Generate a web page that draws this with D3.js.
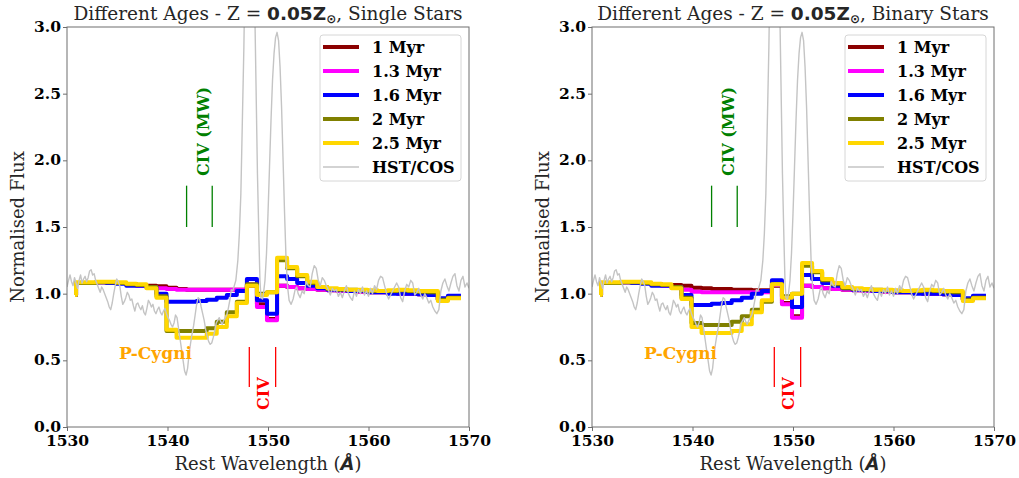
<!DOCTYPE html>
<html><head><meta charset="utf-8">
<script src="https://cdn.jsdelivr.net/npm/d3@7"></script>
<style>
body{margin:0;background:#fff;}
svg{display:block;}
</style></head>
<body>
<svg id="chart" width="1019" height="478"></svg>
<script>
// ---------------- DATA ----------------
const xTicks = [1530, 1540, 1550, 1560, 1570];
const yTicks = [0.0, 0.5, 1.0, 1.5, 2.0, 2.5, 3.0];
const seriesNames = ["1 Myr", "1.3 Myr", "1.6 Myr", "2 Myr", "2.5 Myr"];
const seriesColors = ["#8b0000", "#ff00ff", "#0000ff", "#808000", "#ffd700"];
const panelTitles = ["Single Stars", "Binary Stars"];

// model step edges (Angstrom)
const modelWave = [1530.8, 1530.9, 1531.9, 1532.9, 1533.9, 1534.9, 1535.9, 1536.9, 1537.9, 1538.9,
  1539.9, 1540.9, 1541.9, 1542.9, 1543.9, 1544.9, 1545.9, 1546.9, 1547.9, 1548.9,
  1549.9, 1550.9, 1551.9, 1552.9, 1553.9, 1554.9, 1555.9, 1556.9, 1557.9, 1558.9,
  1559.9, 1560.9, 1561.9, 1562.9, 1563.9, 1564.9, 1565.9, 1566.9, 1567.9, 1568.9, 1569.2];

// Single stars
const single_1Myr = [0.99, 1.08, 1.08, 1.085, 1.085, 1.08, 1.07, 1.065, 1.06, 1.055,
  1.045, 1.035, 1.03, 1.03, 1.03, 1.03, 1.03, 1.03, 1.06, 0.92,
  0.81, 1.06, 1.05, 1.04, 1.035, 1.03, 1.025, 1.02, 1.02, 1.015,
  1.01, 1.01, 1.005, 1.0, 1.0, 0.995, 0.99, 0.955, 0.975, 0.975, 0.975];
const single_13Myr = [0.99, 1.08, 1.08, 1.085, 1.085, 1.08, 1.07, 1.06, 1.05, 1.04,
  1.035, 1.03, 1.03, 1.03, 1.03, 1.03, 1.03, 1.03, 1.07, 0.90,
  0.80, 1.06, 1.05, 1.04, 1.035, 1.03, 1.025, 1.02, 1.02, 1.015,
  1.01, 1.01, 1.005, 1.0, 1.0, 0.995, 0.99, 0.955, 0.975, 0.975, 0.975];
const single_16Myr = [0.99, 1.08, 1.08, 1.085, 1.08, 1.075, 1.06, 1.06, 1.05, 1.0,
  0.94, 0.94, 0.94, 0.945, 0.955, 0.97, 0.99, 1.02, 1.11, 0.95,
  0.85, 1.13, 1.11, 1.08, 1.06, 1.04, 1.03, 1.025, 1.02, 1.02,
  1.01, 1.01, 1.0, 1.0, 1.0, 0.995, 0.99, 0.965, 0.985, 0.985, 0.985];
const single_2Myr = [0.99, 1.08, 1.08, 1.085, 1.085, 1.08, 1.07, 1.065, 1.05, 0.98,
  0.72, 0.72, 0.72, 0.72, 0.74, 0.79, 0.86, 0.94, 1.07, 1.0,
  1.01, 1.25, 1.19, 1.13, 1.08, 1.05, 1.035, 1.03, 1.03, 1.025,
  1.02, 1.02, 1.02, 1.025, 1.02, 1.015, 1.01, 0.955, 0.97, 0.97, 0.97];
const single_25Myr = [0.99, 1.085, 1.085, 1.09, 1.09, 1.085, 1.075, 1.07, 1.04, 0.97,
  0.73, 0.67, 0.67, 0.67, 0.70, 0.75, 0.83, 0.93, 1.06, 0.99,
  1.01, 1.27, 1.20, 1.14, 1.09, 1.05, 1.04, 1.035, 1.03, 1.03,
  1.025, 1.02, 1.025, 1.03, 1.025, 1.02, 1.02, 0.945, 0.965, 0.965, 0.965];

// Binary stars
const binary_1Myr = [0.99, 1.08, 1.08, 1.085, 1.085, 1.08, 1.07, 1.065, 1.065, 1.06,
  1.045, 1.04, 1.035, 1.035, 1.03, 1.03, 1.025, 1.025, 1.06, 0.93,
  0.83, 1.06, 1.05, 1.04, 1.035, 1.03, 1.025, 1.02, 1.02, 1.015,
  1.01, 1.01, 1.005, 1.0, 1.0, 0.995, 0.99, 0.955, 0.975, 0.975, 0.975];
const binary_13Myr = [0.99, 1.08, 1.08, 1.085, 1.085, 1.08, 1.07, 1.06, 1.05, 1.03,
  1.015, 1.01, 1.01, 1.01, 1.01, 1.01, 1.01, 1.01, 1.065, 0.92,
  0.82, 1.06, 1.05, 1.04, 1.035, 1.03, 1.025, 1.02, 1.02, 1.015,
  1.01, 1.01, 1.005, 1.0, 1.0, 0.995, 0.99, 0.955, 0.975, 0.975, 0.975];
const binary_16Myr = [0.99, 1.08, 1.08, 1.085, 1.08, 1.075, 1.06, 1.06, 1.05, 0.99,
  0.915, 0.915, 0.925, 0.93, 0.95, 0.97, 1.0, 1.02, 1.10, 0.975,
  0.90, 1.14, 1.11, 1.08, 1.06, 1.04, 1.03, 1.025, 1.02, 1.02,
  1.01, 1.01, 1.0, 1.0, 1.0, 0.995, 0.99, 0.965, 0.985, 0.985, 0.985];
const binary_2Myr = [0.99, 1.08, 1.08, 1.085, 1.085, 1.08, 1.07, 1.065, 1.05, 0.97,
  0.78, 0.765, 0.765, 0.765, 0.79, 0.83, 0.88, 0.94, 1.07, 0.98,
  1.0, 1.21, 1.16, 1.10, 1.07, 1.04, 1.035, 1.03, 1.03, 1.025,
  1.02, 1.02, 1.02, 1.025, 1.02, 1.015, 1.01, 0.955, 0.97, 0.97, 0.97];
const binary_25Myr = [0.99, 1.085, 1.085, 1.09, 1.09, 1.085, 1.075, 1.07, 1.04, 0.96,
  0.75, 0.705, 0.705, 0.705, 0.72, 0.77, 0.86, 0.95, 1.07, 0.97,
  1.0, 1.23, 1.17, 1.11, 1.08, 1.05, 1.04, 1.035, 1.03, 1.03,
  1.025, 1.02, 1.025, 1.03, 1.025, 1.02, 1.02, 0.945, 0.965, 0.965, 0.965];

// HST/COS observed spectrum
const hstWave = [1530.0, 1530.15, 1530.3, 1530.45, 1530.6, 1530.75, 1530.9, 1531.05, 1531.2, 1531.35,
  1531.5, 1531.65, 1531.8, 1531.95, 1532.1, 1532.25, 1532.4, 1532.55, 1532.7, 1532.85,
  1533.0, 1533.15, 1533.3, 1533.45, 1533.6, 1533.75, 1533.9, 1534.05, 1534.2, 1534.35,
  1534.5, 1534.65, 1534.8, 1534.95, 1535.1, 1535.25, 1535.4, 1535.55, 1535.7, 1535.85,
  1536.0, 1536.15, 1536.3, 1536.45, 1536.6, 1536.75, 1536.9, 1537.05, 1537.2, 1537.35,
  1537.5, 1537.65, 1537.8, 1537.95, 1538.1, 1538.25, 1538.4, 1538.55, 1538.7, 1538.85,
  1539.0, 1539.15, 1539.3, 1539.45, 1539.6, 1539.75, 1539.9, 1540.05, 1540.2, 1540.35,
  1540.5, 1540.65, 1540.8, 1540.95, 1541.1, 1541.25, 1541.4, 1541.55, 1541.7, 1541.85,
  1542.0, 1542.15, 1542.3, 1542.45, 1542.6, 1542.75, 1542.9, 1543.05, 1543.2, 1543.35,
  1543.5, 1543.65, 1543.8, 1543.95, 1544.1, 1544.25, 1544.4, 1544.55, 1544.7, 1544.85,
  1545.0, 1545.15, 1545.3, 1545.45, 1545.6, 1545.75, 1545.9, 1546.05, 1546.2, 1546.35,
  1546.5, 1546.65, 1546.8, 1547.0, 1547.15, 1547.3, 1547.45, 1547.6, 1547.75, 1547.9,
  1548.05, 1548.2, 1548.35, 1548.5, 1548.65, 1548.8, 1548.95, 1549.1, 1549.2, 1549.3,
  1549.45, 1549.55, 1549.7, 1549.85, 1550.0, 1550.15, 1550.3, 1550.45, 1550.6, 1550.75,
  1550.9, 1551.05, 1551.2, 1551.35, 1551.5, 1551.65, 1551.8, 1551.95, 1552.1, 1552.3,
  1552.5, 1552.7, 1552.85, 1553.0, 1553.2, 1553.4, 1553.6, 1553.8, 1554.0, 1554.2,
  1554.4, 1554.6, 1554.8, 1555.0, 1555.2, 1555.4, 1555.6, 1555.8, 1556.0, 1556.2,
  1556.4, 1556.6, 1556.8, 1557.0, 1557.2, 1557.4, 1557.6, 1557.8, 1558.0, 1558.2,
  1558.4, 1558.6, 1558.8, 1559.0, 1559.2, 1559.4, 1559.6, 1559.8, 1560.0, 1560.2,
  1560.4, 1560.6, 1560.8, 1561.0, 1561.2, 1561.4, 1561.6, 1561.8, 1562.0, 1562.2,
  1562.4, 1562.6, 1562.8, 1563.0, 1563.2, 1563.4, 1563.6, 1563.8, 1564.0, 1564.2,
  1564.4, 1564.6, 1564.8, 1565.0, 1565.2, 1565.4, 1565.6, 1565.8, 1566.0, 1566.2,
  1566.4, 1566.6, 1566.8, 1567.0, 1567.2, 1567.4, 1567.6, 1567.8, 1568.0, 1568.2,
  1568.4, 1568.6, 1568.8, 1569.0, 1569.2, 1569.4, 1569.6, 1569.8, 1570.0];
const hstFlux = [1.05, 1.10, 1.14, 1.09, 1.06, 1.12, 1.08, 1.04, 1.10, 1.14,
  1.08, 1.11, 1.13, 1.09, 1.12, 1.17, 1.18, 1.14, 1.15, 1.10,
  1.07, 1.04, 1.01, 1.05, 1.03, 1.00, 0.97, 0.94, 0.90, 0.88,
  0.93, 1.00, 1.06, 1.11, 1.09, 1.06, 0.98, 0.92, 0.94, 0.97,
  1.01, 0.99, 0.95, 0.96, 0.91, 0.87, 0.92, 0.93, 0.90, 0.88,
  0.91, 0.86, 0.84, 0.89, 0.95, 0.93, 0.90, 0.92, 0.87, 0.85,
  0.88, 0.90, 0.86, 0.84, 0.87, 0.89, 0.85, 0.82, 0.80, 0.77,
  0.75, 0.78, 0.84, 0.82, 0.74, 0.66, 0.58, 0.50, 0.42, 0.39,
  0.44, 0.55, 0.63, 0.70, 0.76, 0.84, 0.92, 0.97, 0.96, 0.90,
  0.85, 0.80, 0.73, 0.68, 0.64, 0.62, 0.63, 0.67, 0.72, 0.78,
  0.80, 0.82, 0.79, 0.77, 0.80, 0.82, 0.84, 0.89, 0.95, 1.03,
  1.02, 1.06, 1.10, 1.25, 1.45, 1.75, 2.30, 2.85, 3.60, 4.50,
  5.20, 5.40, 5.00, 4.20, 3.30, 2.60, 1.90, 1.40, 1.10, 0.97,
  0.96, 1.00, 1.10, 1.30, 1.60, 1.95, 2.30, 2.60, 2.80, 2.92,
  2.96, 2.90, 2.70, 2.40, 2.00, 1.60, 1.25, 1.05, 0.95, 0.92,
  0.96, 1.03, 1.05, 1.00, 0.97, 1.02, 1.00, 1.09, 1.06, 1.05,
  1.15, 1.21, 1.19, 1.10, 1.06, 1.12, 1.10, 1.06, 1.03, 0.99,
  1.04, 1.02, 1.03, 0.98, 1.01, 0.97, 1.02, 1.06, 1.00, 0.97,
  0.95, 1.02, 0.98, 1.03, 1.00, 1.05, 0.99, 1.02, 0.98, 1.04,
  1.00, 1.06, 1.03, 1.10, 1.13, 1.12, 1.06, 1.00, 0.96, 0.99,
  1.02, 1.05, 1.08, 1.05, 0.97, 0.94, 1.02, 1.07, 1.05, 1.10,
  1.08, 0.99, 1.01, 1.04, 0.99, 0.96, 1.00, 0.97, 0.93, 0.95,
  0.90, 0.87, 0.85, 0.88, 1.02, 1.08, 1.11, 1.06, 1.02, 1.08,
  1.13, 1.15, 1.06, 1.02, 1.10, 1.13, 1.05, 1.08, 1.04];

// annotations (data coordinates)
const mwLines = [1541.9, 1544.45];
const mwLineRange = [1.5, 1.81];
const civLines = [1548.14, 1550.76];
const civLineRange = [0.3, 0.6];

// ---------------- DRAWING ----------------
const svg = d3.select("#chart");
const W = 402, H = 400;
const panelX = [67, 592], panelY = 27;
const serif = "'DejaVu Serif', serif";
const sans = "'DejaVu Sans', sans-serif";

const x = d3.scaleLinear().domain([1530, 1570]).range([0, W]);
const y = d3.scaleLinear().domain([0, 3]).range([H, 0]);

const panelSeries = [
  [single_1Myr, single_13Myr, single_16Myr, single_2Myr, single_25Myr],
  [binary_1Myr, binary_13Myr, binary_16Myr, binary_2Myr, binary_25Myr]
];

const stepLine = d3.line().x(d => x(d[0])).y(d => y(d[1])).curve(d3.curveStepAfter);
const smoothLine = d3.line().x(d => x(d[0])).y(d => y(d[1]));

panelSeries.forEach((series, p) => {
  const g = svg.append("g").attr("transform", `translate(${panelX[p]},${panelY})`);
  const clipId = "clip" + p;
  g.append("clipPath").attr("id", clipId).append("rect").attr("width", W).attr("height", H);

  const plot = g.append("g").attr("clip-path", `url(#${clipId})`);

  series.forEach((vals, i) => {
    const pts = modelWave.map((w, j) => [w, vals[j]]);
    plot.append("path").attr("d", stepLine(pts))
      .attr("fill", "none").attr("stroke", seriesColors[i])
      .attr("stroke-width", 4).attr("stroke-linejoin", "round").attr("stroke-linecap", "butt");
  });
  const hstPts = hstWave.map((w, j) => [w, hstFlux[j]]);
  plot.append("path").attr("d", smoothLine(hstPts))
    .attr("fill", "none").attr("stroke", "#c4c4c4").attr("stroke-width", 1.4)
    .attr("stroke-linejoin", "round");

  // annotation lines
  mwLines.forEach(w => {
    g.append("line").attr("x1", x(w)).attr("x2", x(w))
      .attr("y1", y(mwLineRange[0])).attr("y2", y(mwLineRange[1]))
      .attr("stroke", "#008000").attr("stroke-width", 1.3);
  });
  civLines.forEach(w => {
    g.append("line").attr("x1", x(w)).attr("x2", x(w))
      .attr("y1", y(civLineRange[0])).attr("y2", y(civLineRange[1]))
      .attr("stroke", "#ff0000").attr("stroke-width", 1.3);
  });
  // annotation texts
  g.append("text").attr("transform", `translate(${x(1543.63)},${y(2.216)}) rotate(-90)`)
    .attr("text-anchor", "middle").attr("dominant-baseline", "central")
    .attr("font-family", serif).attr("font-weight", "bold").attr("font-size", 16)
    .attr("fill", "#008000").text("CIV (MW)");
  g.append("text").attr("transform", `translate(${x(1549.6)},${y(0.25)}) rotate(-90)`)
    .attr("text-anchor", "middle").attr("dominant-baseline", "central")
    .attr("font-family", serif).attr("font-weight", "bold").attr("font-size", 16)
    .attr("fill", "#ff0000").text("CIV");
  g.append("text").attr("x", x(1538.8)).attr("y", y(0.553))
    .attr("text-anchor", "middle").attr("dominant-baseline", "central")
    .attr("font-family", serif).attr("font-weight", "bold").attr("font-size", 17)
    .attr("fill", "#ffa500").text("P-Cygni");

  // frame
  g.append("rect").attr("width", W).attr("height", H).attr("fill", "none")
    .attr("stroke", "#6e6e6e").attr("stroke-width", 1);

  // axes
  const xa = g.append("g").attr("transform", `translate(0,${H})`)
    .call(d3.axisBottom(x).tickValues(xTicks).tickFormat(d3.format("d")).tickSize(4).tickPadding(4));
  const ya = g.append("g")
    .call(d3.axisLeft(y).tickValues(yTicks).tickFormat(d3.format(".1f")).tickSize(4).tickPadding(2));
  [xa, ya].forEach(a => {
    a.select(".domain").remove();
    a.selectAll(".tick line").attr("stroke", "#6e6e6e");
    a.selectAll(".tick text").attr("font-family", serif).attr("font-weight", "bold")
      .attr("font-size", 15.5).attr("fill", "#000");
  });
  ya.selectAll(".tick text").attr("dy", "0.3em");

  // axis labels
  const xl = g.append("text").attr("x", W / 2).attr("y", 470 - panelY)
    .attr("text-anchor", "middle").attr("font-family", serif).attr("font-size", 18).attr("fill", "#262626");
  xl.append("tspan").text("Rest Wavelength (");
  xl.append("tspan").attr("font-family", sans).attr("font-weight", "bold").attr("font-style", "italic").text("Å");
  xl.append("tspan").text(")");

  g.append("text").attr("transform", `translate(${-50},${H / 2}) rotate(-90)`)
    .attr("text-anchor", "middle").attr("dominant-baseline", "central")
    .attr("font-family", serif).attr("font-size", 18).attr("fill", "#262626").text("Normalised Flux");

  // title
  const t = g.append("text").attr("x", W / 2).attr("y", 20 - panelY)
    .attr("text-anchor", "middle").attr("font-family", serif).attr("font-size", 18.5).attr("fill", "#262626");
  t.append("tspan").text("Different Ages - Z = ");
  t.append("tspan").attr("font-family", sans).attr("font-weight", "bold").text("0.05Z");
  t.append("tspan").attr("font-family", sans).attr("font-weight", "bold").attr("font-size", 12).attr("dy", 3).text("⊙");
  t.append("tspan").attr("dy", -3).text(", " + panelTitles[p]);

  // legend
  const lg = g.append("g").attr("transform", "translate(253,8)");
  lg.append("rect").attr("width", 141).attr("height", 146).attr("rx", 3)
    .attr("fill", "#fff").attr("fill-opacity", 0.85).attr("stroke", "#d6d6d6").attr("stroke-width", 1);
  const legendNames = seriesNames.concat(["HST/COS"]);
  const legendColors = seriesColors.concat(["#c4c4c4"]);
  legendNames.forEach((n, i) => {
    const yy = 12 + i * 24;
    lg.append("line").attr("x1", 3).attr("x2", 39).attr("y1", yy).attr("y2", yy)
      .attr("stroke", legendColors[i]).attr("stroke-width", i < 5 ? 4 : 1.4);
    lg.append("text").attr("x", 52).attr("y", yy).attr("dominant-baseline", "central")
      .attr("font-family", serif).attr("font-weight", "bold").attr("font-size", 16)
      .attr("fill", "#000").text(n);
  });
});
</script>
</body></html>
